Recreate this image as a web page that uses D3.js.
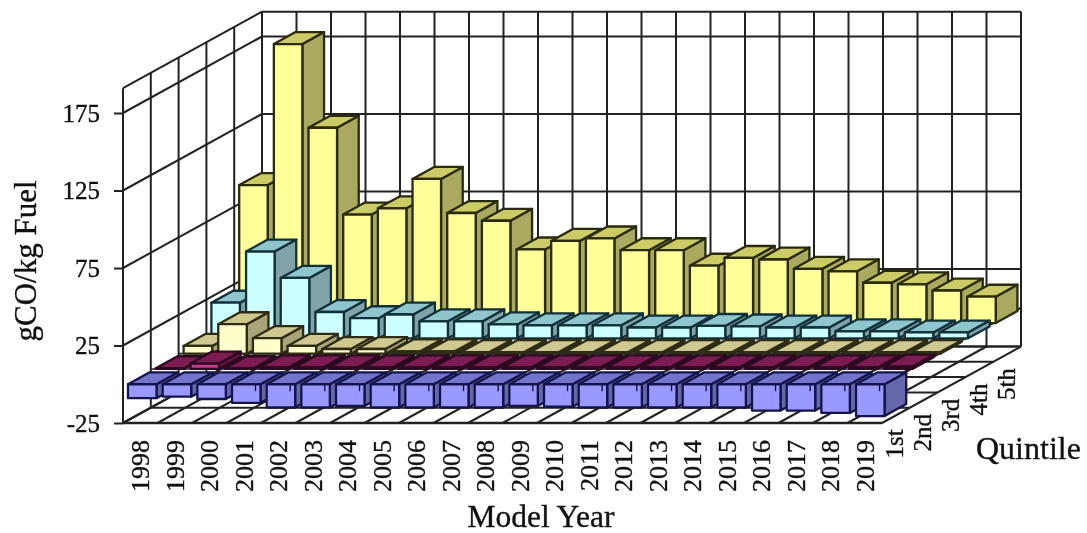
<!DOCTYPE html>
<html>
<head>
<meta charset="utf-8">
<script src="https://cdn.jsdelivr.net/npm/d3@7"></script>
<style>
  html, body { margin: 0; padding: 0; background: #fff; }
  svg { display: block; filter: blur(0.5px); }
  text { font-family: "Liberation Serif", serif; fill: #111; stroke: #111; stroke-width: 0.35px; }
</style>
</head>
<body>
<svg width="1087" height="533"></svg>
<script>
const years = ["1998","1999","2000","2001","2002","2003","2004","2005","2006","2007","2008",
  "2009","2010","2011","2012","2013","2014","2015","2016","2017","2018","2019"];
const quintiles = ["1st", "2nd", "3rd", "4th", "5th"];
const valueTicks = [-25, 25, 75, 125, 175];

const first = [-9, -8, -9.5, -12, -15, -15, -14, -15, -15, -15, -15, -14, -14.5, -15, -15, -15, -15, -15, -17, -17, -18.5, -20.5];
const second = [0.5, 3.5, 0.5, 1, 1, 1, 1, 1, 1, 1, 1, 1, 1, 1, 1, 1, 1, 1, 1, 1, 1, 1.5];
const third = [5, 19, 10, 5, 3, 3, 1.5, 1.5, 1, 1, 1, 1, 1, 1, 1, 1, 1, 1, 1, 1, 1, 1];
const fourth = [23, 56, 39, 17, 13, 15.4, 11, 11, 9, 8.4, 8.4, 8.4, 7, 7, 8, 7.7, 7, 7, 4.5, 4.5, 3.8, 3.8];
const fifth = [89, 180, 126, 70, 74, 93, 71, 66, 47.5, 53, 54.6, 47, 47, 37, 42, 41, 35, 33.4, 26, 25, 21, 17];
const series = [first, second, third, fourth, fifth];

const colors = [
  { front: "#9999ff", top: "#7474cc", side: "#6666aa", edge: "#14144a" },
  { front: "#c23d86", top: "#7d1c52", side: "#661344", edge: "#2c0a20" },
  { front: "#ffffcc", top: "#cfc890", side: "#a8a478", edge: "#2e2c14" },
  { front: "#ccffff", top: "#8fc5cc", side: "#7fa3a8", edge: "#12303a" },
  { front: "#ffff99", top: "#cccc66", side: "#a9a95f", edge: "#2a2a0c" }
];

const svg = d3.select("svg");

// oblique projection: each quintile row moves right and up
const xWall = d3.scaleBand().domain(years).range([123, 882]);
const xBar = d3.scaleBand().domain(years).range([128, 890.7]);
const y = d3.scaleLinear().domain([-25, 175]).range([423, 113]);
const depthX = d3.scaleLinear().domain([0, 5]).range([0, 139]);
const depthY = d3.scaleLinear().domain([0, 5]).range([0, -76.5]);
const wallTop = 191;
const barWidth = 28.5;
const barDepth = 0.78;

function project(px, v, d) {
  return [px + depthX(d), y(v) + depthY(d)];
}

const line = d3.line();
const gridColor = "#222";

function gridLine(a, b, width) {
  grid.append("path")
    .attr("d", line([a, b]))
    .attr("fill", "none")
    .attr("stroke", gridColor)
    .attr("stroke-width", width || 2);
}

const grid = svg.append("g").attr("id", "grid");
const left = xWall.range()[0];
const right = xWall.range()[1];

// back wall and left wall, value levels
valueTicks.concat([wallTop]).forEach(function (v) {
  gridLine(project(left, v, 5), project(right, v, 5));
  gridLine(project(left, v, 0), project(left, v, 5));
});
// back wall verticals
years.concat(["end"]).forEach(function (yr) {
  const px = yr == "end" ? right : xWall(yr);
  gridLine(project(px, -25, 5), project(px, wallTop, 5));
});
// left wall verticals
d3.range(6).forEach(function (d) {
  gridLine(project(left, -25, d), project(left, wallTop, d));
});
// floor
d3.range(6).forEach(function (d) {
  gridLine(project(left, -25, d), project(right, -25, d), d == 0 ? 2.6 : 2);
  if (d > 0 && d < 5) {
    gridLine(project(left, 0, d), project(right, 0, d), 1.6);
  }
});
years.concat(["end"]).forEach(function (yr) {
  const px = yr == "end" ? right : xWall(yr);
  gridLine(project(px, -25, 0), project(px, -25, 5));
});
gridLine(project(right, 0, 0), project(right, 0, 5));

// bars, back row first
const barsG = svg.append("g").attr("id", "bars");
d3.range(4, -1, -1).forEach(function (r) {
  const rowG = barsG.append("g").attr("class", "row" + r);
  const c = colors[r];
  series[r].forEach(function (val, i) {
    const x0 = xBar(years[i]);
    const x1 = x0 + barWidth;
    const lo = Math.min(0, val);
    const hi = Math.max(0, val);
    const d0 = r;
    const d1 = r + barDepth;
    const faces = [
      { fill: c.side, pts: [project(x1, lo, d0), project(x1, lo, d1), project(x1, hi, d1), project(x1, hi, d0)] },
      { fill: c.top, pts: [project(x0, hi, d0), project(x1, hi, d0), project(x1, hi, d1), project(x0, hi, d1)] },
      { fill: c.front, pts: [project(x0, lo, d0), project(x1, lo, d0), project(x1, hi, d0), project(x0, hi, d0)] }
    ];
    rowG.selectAll(null)
      .data(faces)
      .enter()
      .append("path")
      .attr("d", function (f) { return line(f.pts) + "Z"; })
      .attr("fill", function (f) { return f.fill; })
      .attr("stroke", c.edge)
      .attr("stroke-width", 2.3)
      .attr("stroke-linejoin", "round");
    // the taller blue bars show a short dark mark under the top edge
    if (val <= -12) {
      rowG.append("path")
        .attr("d", line([project(x1 - 5, 0, d0), project(x1 - 5, -4.5, d0)]))
        .attr("stroke", c.edge)
        .attr("stroke-width", 1.4);
    }
  });
});

// value axis
const yAxis = d3.axisLeft(y)
  .tickValues(valueTicks)
  .tickFormat(function (d) { return String(d); })
  .tickSize(9)
  .tickPadding(14);
const yAxisG = svg.append("g")
  .attr("id", "yAxisG")
  .attr("transform", "translate(" + left + ",0)")
  .call(yAxis);
yAxisG.select(".domain").remove();
yAxisG.selectAll("line").attr("stroke", gridColor).attr("stroke-width", 2);
yAxisG.selectAll("text").style("font-family", "Liberation Serif").style("font-size", "25px");

// year axis
const xAxis = d3.axisBottom(xWall).tickSize(0).tickPadding(0);
const xAxisG = svg.append("g")
  .attr("id", "xAxisG")
  .attr("transform", "translate(0,424)")
  .call(xAxis);
xAxisG.select(".domain").remove();
xAxisG.selectAll("text")
  .style("font-family", "Liberation Serif")
  .style("font-size", "26px")
  .attr("text-anchor", "end")
  .attr("dy", "0.34em")
  .attr("transform", "translate(0,16) rotate(-90)");

// quintile labels along the right floor edge
const depthBand = d3.scaleBand().domain(quintiles).range([0, 5]);
svg.append("g")
  .attr("id", "quintileLabels")
  .selectAll("text")
  .data(quintiles)
  .enter()
  .append("text")
  .attr("text-anchor", "end")
  .attr("dy", "0.34em")
  .attr("font-size", 25)
  .attr("transform", function (q) {
    const p = project(right, -25, depthBand(q) + 0.5);
    return "translate(" + (p[0] - 1) + "," + (p[1] + 14) + ") rotate(-90)";
  })
  .text(function (q) { return q; });

// titles
svg.append("text")
  .attr("x", 541).attr("y", 527)
  .attr("text-anchor", "middle")
  .attr("font-size", 31.5)
  .text("Model Year");
svg.append("text")
  .attr("x", 976).attr("y", 459)
  .attr("font-size", 32)
  .text("Quintile");
svg.append("text")
  .attr("transform", "translate(36,261) rotate(-90)")
  .attr("text-anchor", "middle")
  .attr("font-size", 31)
  .text("gCO/kg Fuel");
</script>
</body>
</html>
